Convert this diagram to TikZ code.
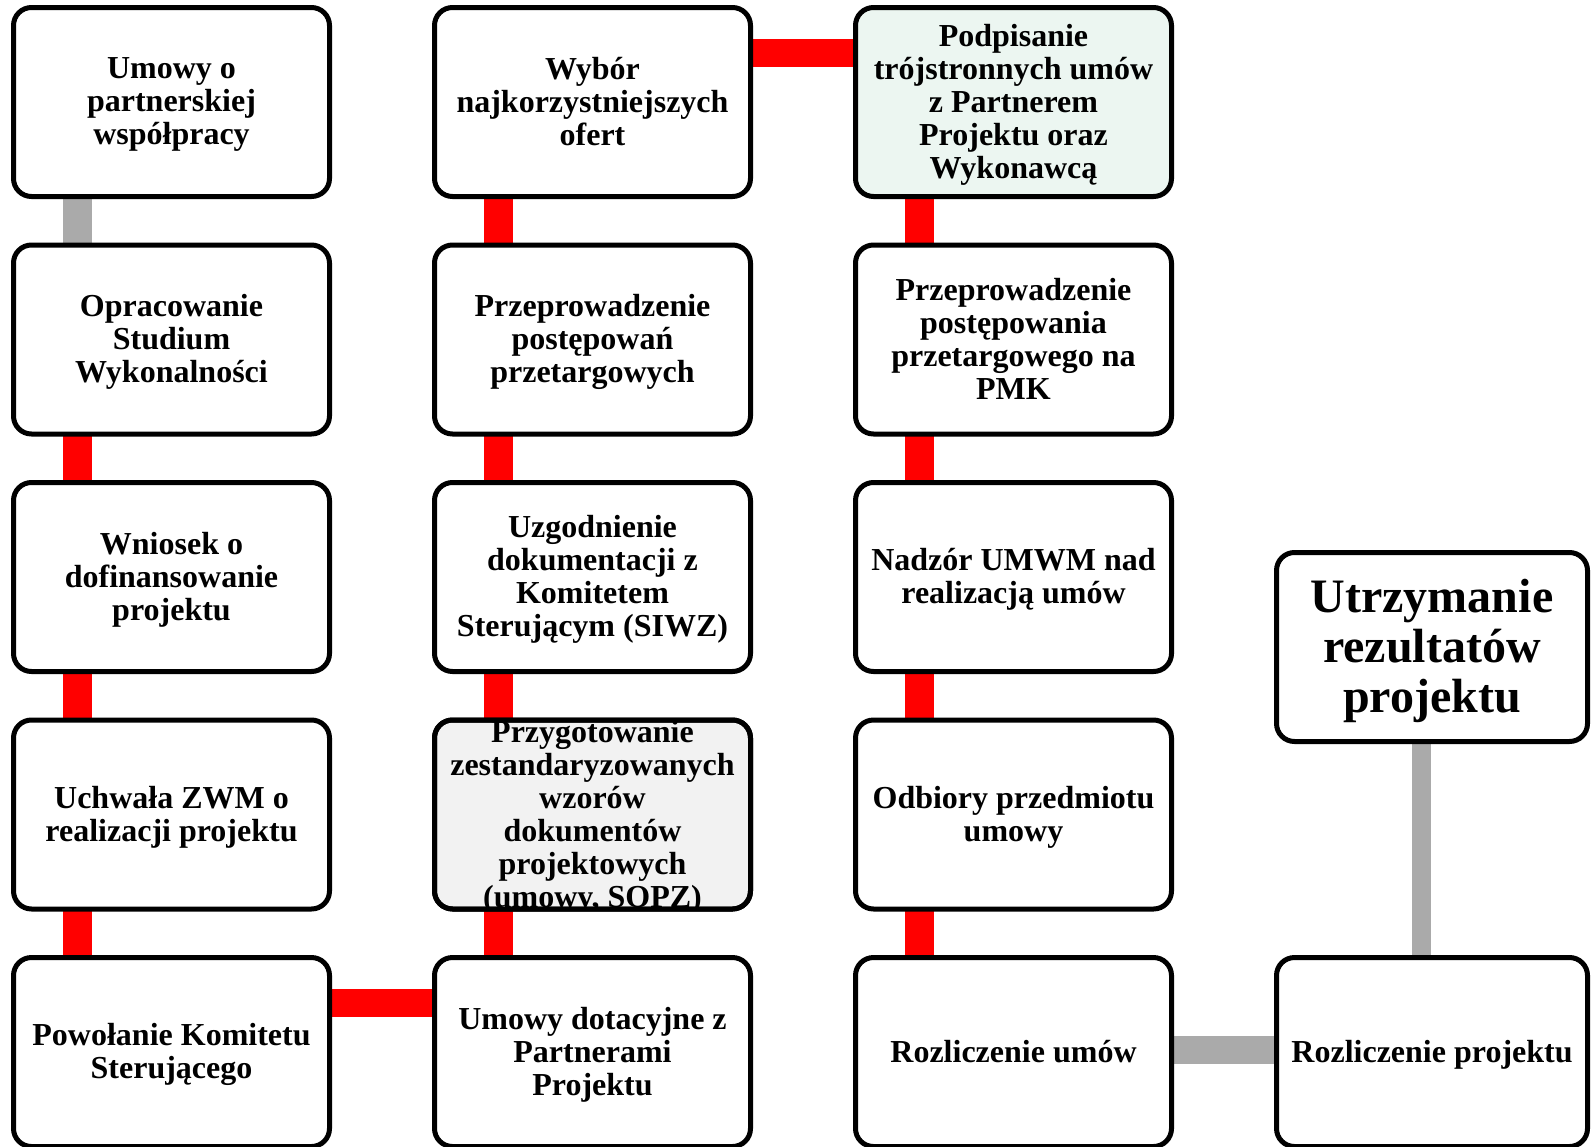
\documentclass[tikz,border=0pt]{standalone}
\usepackage{fontspec}
\setmainfont{Liberation Serif}
\usetikzlibrary{backgrounds}
\definecolor{conred}{RGB}{255,0,0}
\definecolor{congray}{RGB}{170,170,170}
\definecolor{mintfill}{RGB}{236,246,241}
\definecolor{greyfill}{RGB}{242,242,242}
\tikzset{
  box/.style={draw=black, line width=5pt, rounded corners=18pt, fill=white,
    minimum width=316pt, minimum height=189pt, inner sep=0pt, outer sep=0pt},
  narrowbox/.style={box, minimum width=311pt},
  txt/.style={inner sep=0pt, align=center, font=\fontsize{32}{33}\selectfont\bfseries,
    execute at begin node=\strut, execute at end node=\strut},
  bigtxt/.style={txt, font=\fontsize{48}{50}\selectfont\bfseries},
  redcon/.style={draw=conred, line width=29pt},
  graycon/.style={draw=congray, line width=29pt},
  thingray/.style={draw=congray, line width=19pt},
}
\newcommand\mkbox[4][]{%
  \node[box,#1] (#2) at (#3) {};
  \node[txt] (#2-t) at ([yshift=-4pt]#2.center) {#4};}
\begin{document}
\begin{tikzpicture}[x=1pt,y=-1pt]
\useasboundingbox (0,0) rectangle (1593,1146);
% column 1
\mkbox{a1}{171.5,102}{Umowy o\\partnerskiej\\współpracy}
\mkbox{a2}{171.5,339.5}{Opracowanie\\Studium\\Wykonalności}
\mkbox{a3}{171.5,577}{Wniosek o\\dofinansowanie\\projektu}
\mkbox{a4}{171.5,814.5}{Uchwała ZWM o\\realizacji projektu}
\mkbox{a5}{171.5,1052}{Powołanie Komitetu\\Sterującego}
% column 2
\mkbox{b1}{592.5,102}{Wybór\\najkorzystniejszych\\ofert}
\mkbox{b2}{592.5,339.5}{Przeprowadzenie\\postępowań\\przetargowych}
\mkbox{b3}{592.5,577}{Uzgodnienie\\dokumentacji z\\Komitetem\\Sterującym (SIWZ)}
\node[box, fill=greyfill] (b4) at (592.5,814.5) {};
\begin{scope}
  \clip[rounded corners=18pt] (b4.south west) rectangle (b4.north east);
  \node[txt] (b4-t) at ([yshift=-4pt]b4.center) {Przygotowanie\\zestandaryzowanych\\wzorów\\dokumentów\\projektowych\\(umowy, SOPZ)};
\end{scope}
\draw[line width=5pt, rounded corners=18pt] (b4.south west) rectangle (b4.north east);
\mkbox{b5}{592.5,1052}{Umowy dotacyjne z\\Partnerami\\Projektu}
% column 3
\mkbox[fill=mintfill]{c1}{1013.5,102}{Podpisanie\\trójstronnych umów\\z Partnerem\\Projektu oraz\\Wykonawcą}
\mkbox{c2}{1013.5,339.5}{Przeprowadzenie\\postępowania\\przetargowego na\\PMK}
\mkbox{c3}{1013.5,577}{Nadzór UMWM nad\\realizacją umów}
\mkbox{c4}{1013.5,814.5}{Odbiory przedmiotu\\umowy}
\mkbox{c5}{1013.5,1052}{Rozliczenie umów}
% column 4
\node[narrowbox] (d1) at (1432,647) {};
\node[bigtxt] (d1-t) at ([yshift=-6pt]d1.center) {Utrzymanie\\rezultatów\\projektu};
\node[narrowbox] (d2) at (1432,1052) {};
\node[txt] (d2-t) at ([yshift=-4pt]d2.center) {Rozliczenie projektu};
% connectors
\begin{scope}[on background layer]
  \draw[graycon] ([xshift=-94pt]a1.south) -- ([xshift=-94pt]a2.north);
  \draw[redcon] ([xshift=-94pt]a2.south) -- ([xshift=-94pt]a3.north);
  \draw[redcon] ([xshift=-94pt]a3.south) -- ([xshift=-94pt]a4.north);
  \draw[redcon] ([xshift=-94pt]a4.south) -- ([xshift=-94pt]a5.north);
  \draw[redcon, line width=28pt] ([yshift=49pt]a5.east) -- ([yshift=49pt]b5.west);
  \draw[redcon] ([xshift=-94pt]b5.north) -- ([xshift=-94pt]b4.south);
  \draw[redcon] ([xshift=-94pt]b4.north) -- ([xshift=-94pt]b3.south);
  \draw[redcon] ([xshift=-94pt]b3.north) -- ([xshift=-94pt]b2.south);
  \draw[redcon] ([xshift=-94pt]b2.north) -- ([xshift=-94pt]b1.south);
  \draw[redcon, line width=28pt] ([yshift=49pt]b1.east) -- ([yshift=49pt]c1.west);
  \draw[redcon] ([xshift=-94pt]c1.south) -- ([xshift=-94pt]c2.north);
  \draw[redcon] ([xshift=-94pt]c2.south) -- ([xshift=-94pt]c3.north);
  \draw[redcon] ([xshift=-94pt]c3.south) -- ([xshift=-94pt]c4.north);
  \draw[redcon] ([xshift=-94pt]c4.south) -- ([xshift=-94pt]c5.north);
  \draw[graycon, line width=28pt] ([yshift=2pt]c5.east) -- ([yshift=2pt]d2.west);
  \draw[thingray] ([xshift=-10.5pt]d2.north) -- ([xshift=-10.5pt]d1.south);
\end{scope}
\end{tikzpicture}
\end{document}
